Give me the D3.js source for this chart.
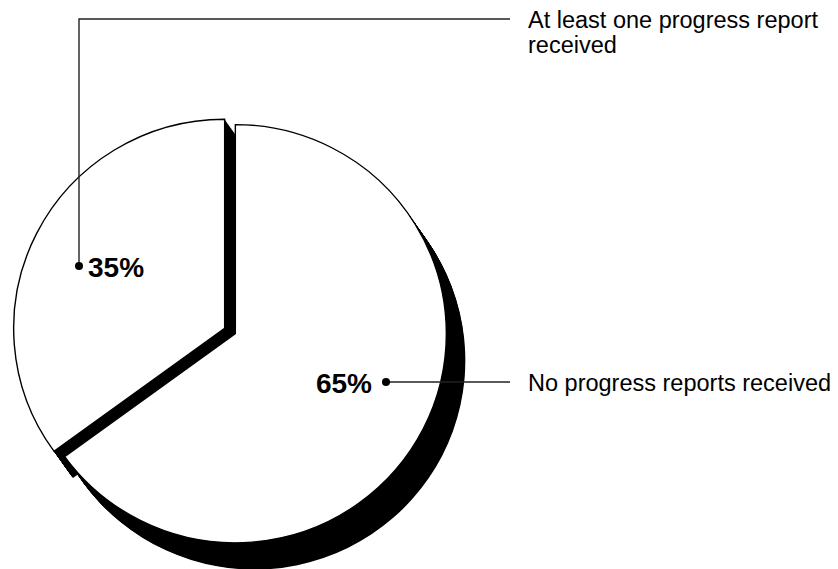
<!DOCTYPE html>
<html>
<head>
<meta charset="utf-8">
<script src="https://cdn.jsdelivr.net/npm/d3@7"></script>
<style>
  html, body { margin: 0; padding: 0; background: #fff; }
  svg { display: block; }
  text { font-family: "Liberation Sans", Arial, Helvetica, sans-serif; fill: #000; }
</style>
</head>
<body>
<svg id="chart" width="838" height="569"></svg>
<script>
// Survey outcome shares, in drawing order (clockwise from 12 o'clock)
const categories = ["No progress reports received", "At least one progress report received"];
const values = [65, 35];
const labelLines = [["No progress reports received"], ["At least one progress report", "received"]];

const svg = d3.select("#chart");

// Pie geometry
const cx = 230, cy = 331, R = 211, squash = 0.991, explode = 6;
const depth = [19, 27];      // direction and length of the black extrusion
const steps = 40;

const pie = d3.pie().sort(null).value(d => d.value).startAngle(0).endAngle(2 * Math.PI);
const slices = pie(categories.map((c, i) => ({ category: c, value: values[i] })));
const arc = d3.arc().innerRadius(0).outerRadius(R);

function offset(a) {
  const m = (a.startAngle + a.endAngle) / 2;
  return [Math.sin(m) * explode, -Math.cos(m) * explode];
}

const g = svg.append("g").attr("transform", `translate(${cx},${cy}) scale(1,${squash})`);

// Extruded black shadow behind every slice
const shadow = g.append("g");
slices.forEach(a => {
  const [ox, oy] = offset(a);
  for (let s = 1; s <= steps; s++) {
    const t = s / steps;
    shadow.append("path")
      .attr("d", arc(a))
      .attr("transform", `translate(${ox + depth[0] * t},${oy + depth[1] * t})`)
      .attr("fill", "#000");
  }
});

// White slice faces
g.append("g").selectAll("path")
  .data(slices)
  .join("path")
  .attr("d", arc)
  .attr("transform", d => `translate(${offset(d)[0]},${offset(d)[1]})`)
  .attr("fill", "#fff")
  .attr("stroke", "#000")
  .attr("stroke-width", 1.4)
  .attr("stroke-linejoin", "miter");

// Leader lines, dots, percentages and category labels
const labelX = 528;
const lead = [
  { // 65%
    dot: [386, 382],
    path: [[386, 382], [510, 382]],
    pct: { x: 372, y: 393, anchor: "end" },
    text: { y: 391 }
  },
  { // 35%
    dot: [79, 266],
    path: [[79, 266], [79, 19], [510, 19]],
    pct: { x: 88, y: 277, anchor: "start" },
    text: { y: 28 }
  }
];

const line = d3.line();
lead.forEach((L, i) => {
  svg.append("path")
    .attr("d", line(L.path))
    .attr("fill", "none")
    .attr("stroke", "#222")
    .attr("stroke-width", 1.4);
  svg.append("circle")
    .attr("cx", L.dot[0]).attr("cy", L.dot[1]).attr("r", 4)
    .attr("fill", "#000");
  svg.append("text")
    .attr("x", L.pct.x).attr("y", L.pct.y)
    .attr("text-anchor", L.pct.anchor)
    .attr("font-size", 28)
    .attr("font-weight", "bold")
    .text(values[i] + "%");
  const t = svg.append("text")
    .attr("x", labelX).attr("y", L.text.y)
    .attr("font-size", 23.5);
  labelLines[i].forEach((s, k) => {
    t.append("tspan").attr("x", labelX).attr("dy", k === 0 ? 0 : 25).text(s);
  });
});
</script>
</body>
</html>
